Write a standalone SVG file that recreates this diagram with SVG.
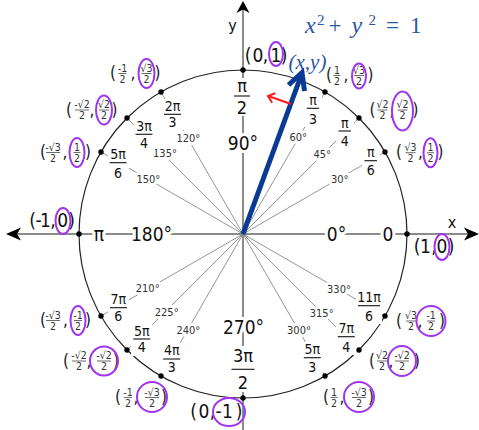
<svg xmlns="http://www.w3.org/2000/svg" width="479" height="430" viewBox="0 0 479 430">
<style>
text{font-family:"DejaVu Sans Condensed","DejaVu Sans",sans-serif;font-stretch:condensed;fill:#111}
.ax{stroke:#8c8c8c;stroke-width:2;fill:none}
.rl{stroke:#7a7a7a;stroke-width:0.8}
.circ{fill:none;stroke:#222;stroke-width:1.2}
.h{paint-order:stroke;stroke:#fff;stroke-width:6;stroke-linejoin:round}
.big{font-size:19px;text-anchor:middle}
.cb{font-size:19px;text-anchor:middle}
.deg{font-size:11px;text-anchor:middle;fill:#333}
.rf{font-size:14px;text-anchor:middle}
.bf{font-size:18px;text-anchor:middle}
.bar{stroke:#111;stroke-width:1.1}
.cf{font-size:10.5px;text-anchor:middle;fill:#333}
.cbar{stroke:#444;stroke-width:0.8}
.par{font-size:17px;fill:#222}
.el{fill:none;stroke:#a035f0;stroke-width:2}
.bg{fill:#fff}
.dot{fill:#000}
.blue{font-family:"Liberation Serif",serif;fill:#2a56a8;font-style:italic}
.bu{font-family:"Liberation Serif",serif;fill:#2a56a8}
</style>

<g id="connectors">
<line class="ax" x1="16" y1="234" x2="469" y2="234"/>
<line class="ax" x1="243" y1="8" x2="243" y2="430"/>
<polygon points="6,234 21,227.5 17,234 21,240.5" fill="#000"/>
<polygon points="479,234 464,227.5 468,234 464,240.5" fill="#000"/>
<polygon points="243,1 249.5,13 243,9.5 236.5,13" fill="#000"/>
<line class="rl" x1="243" y1="234" x2="385" y2="152"/>
<line class="rl" x1="243" y1="234" x2="359" y2="118"/>
<line class="rl" x1="243" y1="234" x2="325" y2="92"/>
<line class="rl" x1="243" y1="234" x2="161" y2="92"/>
<line class="rl" x1="243" y1="234" x2="127" y2="118"/>
<line class="rl" x1="243" y1="234" x2="101" y2="152"/>
<line class="rl" x1="243" y1="234" x2="101" y2="316"/>
<line class="rl" x1="243" y1="234" x2="127" y2="350"/>
<line class="rl" x1="243" y1="234" x2="161" y2="376"/>
<line class="rl" x1="243" y1="234" x2="325" y2="376"/>
<line class="rl" x1="243" y1="234" x2="359" y2="350"/>
<line class="rl" x1="243" y1="234" x2="385" y2="316"/>
</g>

<circle id="unit-circle" class="circ" cx="243" cy="234" r="164"/>

<g id="axis-labels">
<text class="big h" x="99" y="240.5">π</text>
<text class="big h" x="151.5" y="240.5">180°</text>
<text class="big h" x="336.5" y="240.5">0°</text>
<text class="big h" x="388" y="240.5">0</text>
<text class="big h" x="243" y="149.5">90°</text>
<text class="big h" x="243.5" y="333.5">270°</text>
<text x="452" y="228" style="font-size:16px;text-anchor:middle">x</text>
<text x="232.5" y="31" style="font-size:16px;text-anchor:middle">y</text>
</g>

<g id="deg-labels">
<text class="deg h" x="339.7" y="183">30°</text>
<text class="deg h" x="322.3" y="158">45°</text>
<text class="deg h" x="298.3" y="140.5">60°</text>
<text class="deg h" x="188.3" y="142">120°</text>
<text class="deg h" x="165" y="157">135°</text>
<text class="deg h" x="148.3" y="183">150°</text>
<text class="deg h" x="147.7" y="291.5">210°</text>
<text class="deg h" x="166.7" y="316">225°</text>
<text class="deg h" x="188.3" y="334">240°</text>
<text class="deg h" x="299" y="334">300°</text>
<text class="deg h" x="321.7" y="317">315°</text>
<text class="deg h" x="339" y="293">330°</text>
</g>

<g id="rad-labels">
<g id="r90"><rect class="bg" x="233" y="78" width="18" height="38"/><text class="bf" x="242" y="92">π</text><line class="bar" x1="234" y1="96" x2="250" y2="96"/><text class="bf" x="242" y="113.5">2</text></g>
<g id="r270"><rect class="bg" x="230" y="346" width="26" height="46"/><text class="bf" x="243" y="361.5">3π</text><line class="bar" x1="231.5" y1="369.3" x2="254.5" y2="369.3"/><text class="bf" x="243" y="389.3">2</text></g>
<g id="r30"><rect class="bg" x="362" y="146" width="18" height="32"/><text class="rf" x="370.7" y="157.2">π</text><line class="bar" x1="364.5" y1="160.7" x2="377" y2="160.7"/><text class="rf" x="370.7" y="174.5">6</text></g>
<g id="r45"><rect class="bg" x="336" y="116" width="18" height="33"/><text class="rf" x="344.7" y="127.5">π</text><line class="bar" x1="338.5" y1="131" x2="351" y2="131"/><text class="rf" x="344.7" y="146">4</text></g>
<g id="r60"><rect class="bg" x="304" y="94" width="18" height="33"/><text class="rf" x="313" y="104.8">π</text><line class="bar" x1="306.8" y1="108.3" x2="319.2" y2="108.3"/><text class="rf" x="313" y="123.5">3</text></g>
<g id="r120"><rect class="bg" x="162" y="99" width="21" height="31"/><text class="rf" x="172.5" y="110.5">2π</text><line class="bar" x1="164" y1="114.3" x2="181" y2="114.3"/><text class="rf" x="172.5" y="127">3</text></g>
<g id="r135"><rect class="bg" x="134" y="119" width="21" height="32"/><text class="rf" x="144" y="130.8">3π</text><line class="bar" x1="135.5" y1="134.3" x2="152.5" y2="134.3"/><text class="rf" x="144" y="148">4</text></g>
<g id="r150"><rect class="bg" x="108" y="147" width="21" height="33"/><text class="rf" x="118" y="159.2">5π</text><line class="bar" x1="109.5" y1="162.7" x2="126.5" y2="162.7"/><text class="rf" x="118" y="177.5">6</text></g>
<g id="r210"><rect class="bg" x="108" y="292" width="21" height="33"/><text class="rf" x="118.3" y="304.2">7π</text><line class="bar" x1="110" y1="307.7" x2="127" y2="307.7"/><text class="rf" x="118.3" y="321">6</text></g>
<g id="r225"><rect class="bg" x="131" y="324" width="21" height="32"/><text class="rf" x="141.7" y="335.5">5π</text><line class="bar" x1="133.2" y1="339" x2="150.2" y2="339"/><text class="rf" x="141.7" y="352.3">4</text></g>
<g id="r240"><rect class="bg" x="161" y="343" width="21" height="33"/><text class="rf" x="171.7" y="355.2">4π</text><line class="bar" x1="163.2" y1="359" x2="180.2" y2="359"/><text class="rf" x="171.7" y="372.3">3</text></g>
<g id="r300"><rect class="bg" x="302" y="342" width="21" height="33"/><text class="rf" x="312.3" y="354">5π</text><line class="bar" x1="303.8" y1="357.7" x2="320.8" y2="357.7"/><text class="rf" x="312.3" y="371.7">3</text></g>
<g id="r315"><rect class="bg" x="336" y="321" width="21" height="34"/><text class="rf" x="346.3" y="333.2">7π</text><line class="bar" x1="337.8" y1="336.7" x2="354.8" y2="336.7"/><text class="rf" x="346.3" y="351.7">4</text></g>
<g id="r330"><rect class="bg" x="356" y="290" width="26" height="34"/><text class="rf" x="369" y="302.2">11π</text><line class="bar" x1="358" y1="305.7" x2="380" y2="305.7"/><text class="rf" x="369" y="321">6</text></g>
</g>

<g id="dots">
<circle class="dot" cx="407" cy="234" r="2.7"/>
<circle class="dot" cx="385" cy="152" r="2.7"/>
<circle class="dot" cx="359" cy="118" r="2.7"/>
<circle class="dot" cx="325" cy="92" r="2.7"/>
<circle class="dot" cx="243" cy="70" r="2.7"/>
<circle class="dot" cx="161" cy="92" r="2.7"/>
<circle class="dot" cx="127" cy="118" r="2.7"/>
<circle class="dot" cx="101" cy="152" r="2.7"/>
<circle class="dot" cx="79" cy="234" r="2.7"/>
<circle class="dot" cx="101" cy="316" r="2.7"/>
<circle class="dot" cx="127" cy="350" r="2.7"/>
<circle class="dot" cx="161" cy="376" r="2.7"/>
<circle class="dot" cx="243" cy="398" r="2.7"/>
<circle class="dot" cx="325" cy="376" r="2.7"/>
<circle class="dot" cx="359" cy="350" r="2.7"/>
<circle class="dot" cx="385" cy="316" r="2.7"/>
</g>

<g id="coord-labels">
<g id="c0"><text class="cb" x="417" y="253">(</text><text class="cb" x="425.5" y="253">1</text><text class="cb" x="434" y="253">,</text><text class="cb" x="442" y="253">0</text><text class="cb" x="451" y="253">)</text><ellipse class="el" cx="442" cy="247" rx="7.5" ry="13"/></g>
<g id="c90"><text class="cb" x="248" y="62">(</text><text class="cb" x="258" y="62">0</text><text class="cb" x="265.5" y="62">,</text><text class="cb" x="276" y="62">1</text><text class="cb" x="284" y="62">)</text><ellipse class="el" cx="276" cy="54" rx="7" ry="12"/></g>
<g id="c180"><text class="cb" x="32.5" y="227">(</text><text class="cb" x="38.5" y="227">-</text><text class="cb" x="45.5" y="227">1</text><text class="cb" x="53" y="227">,</text><text class="cb" x="62.7" y="227">0</text><text class="cb" x="71.5" y="227">)</text><ellipse class="el" cx="63" cy="221" rx="7.5" ry="13"/></g>
<g id="c270"><text class="cb" x="193.5" y="418">(</text><text class="cb" x="204" y="418">0</text><text class="cb" x="212.5" y="418">,</text><text class="cb" x="218.5" y="418">-</text><text class="cb" x="227.5" y="418">1</text><text class="cb" x="239" y="418">)</text><ellipse class="el" cx="229" cy="412" rx="16" ry="14"/></g>

<g id="c30"><text class="par" x="396" y="158.2">(</text><text class="cf" x="410.5" y="150.7">√3</text><line class="cbar" x1="405.5" y1="152.7" x2="415.5" y2="152.7"/><text class="cf" x="410.5" y="161.7">2</text><text class="par" x="418" y="158.2">,</text><text class="cf" x="430.5" y="150.7">1</text><line class="cbar" x1="427" y1="152.7" x2="434" y2="152.7"/><text class="cf" x="430.5" y="161.7">2</text><text class="par" x="437.5" y="158.2">)</text><ellipse class="el" cx="430.5" cy="152.7" rx="7" ry="14.5"/></g>
<g id="c45"><text class="par" x="369.5" y="115.5">(</text><text class="cf" x="382.5" y="108">√2</text><line class="cbar" x1="377.5" y1="110" x2="387.5" y2="110"/><text class="cf" x="382.5" y="119">2</text><text class="par" x="389.5" y="115.5">,</text><text class="cf" x="402.5" y="108">√2</text><line class="cbar" x1="397.5" y1="110" x2="407.5" y2="110"/><text class="cf" x="402.5" y="119">2</text><text class="par" x="412.5" y="115.5">)</text><ellipse class="el" cx="402.5" cy="111" rx="10.5" ry="19.5"/></g>
<g id="c60"><text class="par" x="326" y="81">(</text><text class="cf" x="337" y="73.5">1</text><line class="cbar" x1="333.5" y1="75.5" x2="340.5" y2="75.5"/><text class="cf" x="337" y="84.5">2</text><text class="par" x="343.5" y="81">,</text><text class="cf" x="359" y="73.5">√3</text><line class="cbar" x1="354" y1="75.5" x2="364" y2="75.5"/><text class="cf" x="359" y="84.5">2</text><text class="par" x="367.5" y="81">)</text><ellipse class="el" cx="359" cy="76" rx="7" ry="12.5"/></g>
<g id="c120"><text class="par" x="110" y="79">(</text><text class="cf" x="122.5" y="71.5">-1</text><line class="cbar" x1="118.5" y1="73.5" x2="126.5" y2="73.5"/><text class="cf" x="122.5" y="82.5">2</text><text class="par" x="130.5" y="79">,</text><text class="cf" x="146.5" y="71.5">√3</text><line class="cbar" x1="141.5" y1="73.5" x2="151.5" y2="73.5"/><text class="cf" x="146.5" y="82.5">2</text><text class="par" x="154.5" y="79">)</text><ellipse class="el" cx="146.5" cy="73.5" rx="8" ry="14.5"/></g>
<g id="c135"><text class="par" x="66" y="115.5">(</text><text class="cf" x="82" y="108">-√2</text><line class="cbar" x1="75" y1="110" x2="89" y2="110"/><text class="cf" x="82" y="119">2</text><text class="par" x="89.5" y="115.5">,</text><text class="cf" x="104" y="108">√2</text><line class="cbar" x1="99" y1="110" x2="109" y2="110"/><text class="cf" x="104" y="119">2</text><text class="par" x="111.5" y="115.5">)</text><ellipse class="el" cx="104" cy="110" rx="8" ry="14.5"/></g>
<g id="c150"><text class="par" x="40" y="158">(</text><text class="cf" x="53" y="150.5">-√3</text><line class="cbar" x1="46" y1="152.5" x2="60" y2="152.5"/><text class="cf" x="53" y="161.5">2</text><text class="par" x="62.5" y="158">,</text><text class="cf" x="77" y="150.5">1</text><line class="cbar" x1="73.5" y1="152.5" x2="80.5" y2="152.5"/><text class="cf" x="77" y="161.5">2</text><text class="par" x="85" y="158">)</text><ellipse class="el" cx="77" cy="152.5" rx="7.5" ry="14.5"/></g>
<g id="c210"><text class="par" x="40" y="326">(</text><text class="cf" x="53" y="318.5">-√3</text><line class="cbar" x1="46" y1="320.5" x2="60" y2="320.5"/><text class="cf" x="53" y="329.5">2</text><text class="par" x="63" y="326">,</text><text class="cf" x="78" y="318.5">-1</text><line class="cbar" x1="74" y1="320.5" x2="82" y2="320.5"/><text class="cf" x="78" y="329.5">2</text><text class="par" x="85" y="326">)</text><ellipse class="el" cx="78" cy="320.5" rx="7.5" ry="14.5"/></g>
<g id="c225"><text class="par" x="63" y="366.5">(</text><text class="cf" x="79" y="359">-√2</text><line class="cbar" x1="72" y1="361" x2="86" y2="361"/><text class="cf" x="79" y="370">2</text><text class="par" x="86.5" y="366.5">,</text><text class="cf" x="104" y="359">-√2</text><line class="cbar" x1="97" y1="361" x2="111" y2="361"/><text class="cf" x="104" y="370">2</text><text class="par" x="113" y="366.5">)</text><ellipse class="el" cx="104" cy="361" rx="14" ry="14.5"/></g>
<g id="c240"><text class="par" x="115" y="403">(</text><text class="cf" x="128" y="395.5">-1</text><line class="cbar" x1="124" y1="397.5" x2="132" y2="397.5"/><text class="cf" x="128" y="406.5">2</text><text class="par" x="133.5" y="403">,</text><text class="cf" x="152" y="395.5">-√3</text><line class="cbar" x1="145" y1="397.5" x2="159" y2="397.5"/><text class="cf" x="152" y="406.5">2</text><text class="par" x="161" y="403">)</text><ellipse class="el" cx="152" cy="397" rx="15" ry="15"/></g>
<g id="c300"><text class="par" x="323" y="403">(</text><text class="cf" x="334" y="395.5">1</text><line class="cbar" x1="330.5" y1="397.5" x2="337.5" y2="397.5"/><text class="cf" x="334" y="406.5">2</text><text class="par" x="339.5" y="403">,</text><text class="cf" x="359" y="395.5">-√3</text><line class="cbar" x1="352" y1="397.5" x2="366" y2="397.5"/><text class="cf" x="359" y="406.5">2</text><text class="par" x="368" y="403">)</text><ellipse class="el" cx="359" cy="397" rx="15" ry="15"/></g>
<g id="c315"><text class="par" x="369" y="366.5">(</text><text class="cf" x="382" y="359">√2</text><line class="cbar" x1="377" y1="361" x2="387" y2="361"/><text class="cf" x="382" y="370">2</text><text class="par" x="388.5" y="366.5">,</text><text class="cf" x="402" y="359">-√2</text><line class="cbar" x1="395" y1="361" x2="409" y2="361"/><text class="cf" x="402" y="370">2</text><text class="par" x="414" y="366.5">)</text><ellipse class="el" cx="402" cy="361" rx="14" ry="15"/></g>
<g id="c330"><text class="par" x="396" y="326.5">(</text><text class="cf" x="411" y="319">√3</text><line class="cbar" x1="406" y1="321" x2="416" y2="321"/><text class="cf" x="411" y="330">2</text><text class="par" x="417.5" y="326.5">,</text><text class="cf" x="431" y="319">-1</text><line class="cbar" x1="427" y1="321" x2="435" y2="321"/><text class="cf" x="431" y="330">2</text><text class="par" x="439" y="326.5">)</text><ellipse class="el" cx="431" cy="321" rx="14.5" ry="15"/></g>
</g>

<g id="vector">
<line x1="243" y1="234" x2="300.6" y2="77" stroke="#0a3a94" stroke-width="5"/>
<polyline points="288.5,85 302,72.5 304.5,91" fill="none" stroke="#0a3a94" stroke-width="5" stroke-linejoin="miter"/>
<line x1="291" y1="104" x2="269" y2="96.3" stroke="#ff1a1a" stroke-width="2"/>
<polyline points="275.3,93.3 268,96 272.1,102.7" fill="none" stroke="#ff1a1a" stroke-width="2"/>
<text class="blue" x="288.5" y="69" style="font-size:21px">(x,y)</text>
</g>

<g id="equation">
<text class="blue" x="305" y="33" style="font-size:24px">x</text>
<text class="bu" x="317" y="25" style="font-size:15px">2</text>
<text class="bu" x="328.5" y="33" style="font-size:23px">+</text>
<text class="blue" x="351.5" y="33" style="font-size:24px">y</text>
<text class="bu" x="368.5" y="25" style="font-size:15px">2</text>
<text class="bu" x="386" y="33" style="font-size:23px">=</text>
<text class="bu" x="410" y="33" style="font-size:23px">1</text>
</g>
</svg>
